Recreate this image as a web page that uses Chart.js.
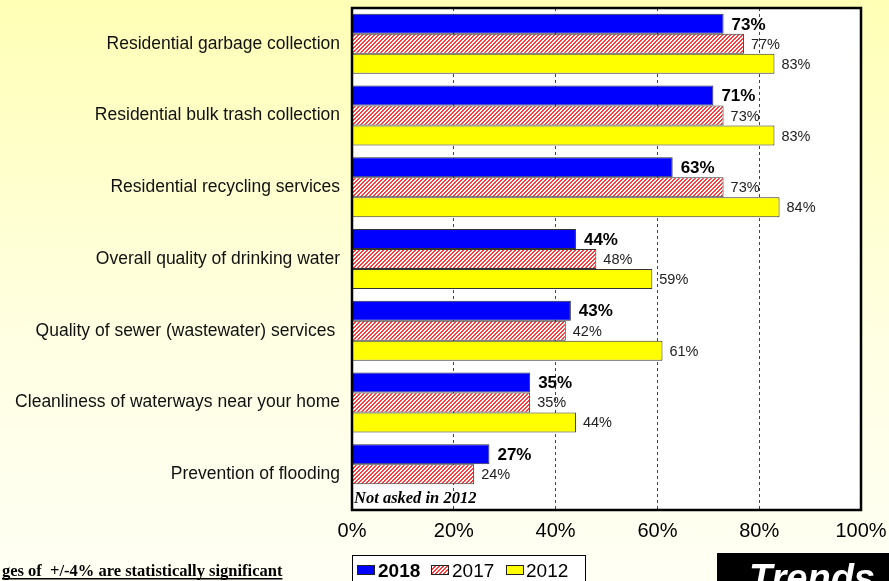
<!DOCTYPE html>
<html><head><meta charset="utf-8">
<script src="https://cdn.jsdelivr.net/npm/chart.js@4/dist/chart.umd.min.js"></script>
<style>html,body{margin:0;padding:0;overflow:hidden;background:#ffffe0}canvas{display:block}</style>
</head><body>
<canvas id="c" width="889" height="581"></canvas>
<script>
const categories = [
  'Residential garbage collection',
  'Residential bulk trash collection',
  'Residential recycling services',
  'Overall quality of drinking water',
  'Quality of sewer (wastewater) services ',
  'Cleanliness of waterways near your home',
  'Prevention of flooding'
];
const seriesNames = ['2018', '2017', '2012'];
const values2018 = [73, 71, 63, 44, 43, 35, 27];
const values2017 = [77, 73, 73, 48, 42, 35, 24];
const values2012 = [83, 83, 84, 59, 61, 44, null];
const xTicks = [0, 20, 40, 60, 80, 100];
const footnote = 'ges of  +/-4% are statistically significant';
const noteText = 'Not asked in 2012';
const badgeText = 'Trends';

const canvas = document.getElementById('c');
const ctx = canvas.getContext('2d');
const SANS = '"Liberation Sans", Arial, sans-serif';
const SERIF = '"Liberation Serif", "Times New Roman", serif';

function hatch() {
  const p = document.createElement('canvas');
  p.width = 4; p.height = 4;
  const g = p.getContext('2d');
  g.fillStyle = '#ffffff'; g.fillRect(0, 0, 4, 4);
  g.fillStyle = '#ff3a3a';
  for (let y = 0; y < 4; y++) {
    for (let x = 0; x < 4; x++) {
      if ((x + y) % 4 < 2) g.fillRect(x, y, 1, 1);
    }
  }
  return ctx.createPattern(p, 'repeat');
}
const hatchFill = hatch();
const fills = ['#0000ff', hatchFill, '#ffff00'];

const decor = {
  id: 'decor',
  beforeDraw(chart) {
    const c = chart.ctx, a = chart.chartArea;
    const gr = c.createLinearGradient(0, 0, 0, chart.height);
    gr.addColorStop(0, '#ffffb6');
    gr.addColorStop(0.6, '#ffffe4');
    gr.addColorStop(1, '#fffff4');
    c.save();
    c.fillStyle = gr;
    c.fillRect(0, 0, chart.width, chart.height);
    c.fillStyle = '#ffffff';
    c.fillRect(a.left, a.top, a.right - a.left, a.bottom - a.top);
    c.restore();
  },
  afterDatasetsDraw(chart) {
    const c = chart.ctx;
    c.save();
    c.textBaseline = 'middle';
    c.textAlign = 'left';
    chart.data.datasets.forEach((ds, di) => {
      const meta = chart.getDatasetMeta(di);
      meta.data.forEach((bar, i) => {
        const v = ds.data[i];
        if (v === null || v === undefined) return;
        if (di === 0) { c.font = 'bold 17px ' + SANS; c.fillStyle = '#000'; }
        else { c.font = '14.5px ' + SANS; c.fillStyle = '#222'; }
        c.fillText(v + '%', bar.x + (di === 0 ? 8 : 7), bar.y + 1);
      });
    });
    c.restore();
  },
  afterDraw(chart) {
    const c = chart.ctx, a = chart.chartArea;
    c.save();
    // plot border
    c.strokeStyle = '#000'; c.lineWidth = 2.5;
    c.strokeRect(a.left, a.top, a.right - a.left, a.bottom - a.top);
    // note
    c.font = 'italic bold 16.5px ' + SERIF;
    c.fillStyle = '#000'; c.textBaseline = 'middle'; c.textAlign = 'left';
    c.fillText(noteText, a.left + 2, 499);
    // legend
    const lx = 352, ly = 555;
    c.fillStyle = '#ffffff';
    c.fillRect(lx, ly, 233, 40);
    c.strokeStyle = '#000'; c.lineWidth = 1;
    c.strokeRect(lx + 0.5, ly + 0.5, 233, 40);
    const items = [
      { x: 357, tx: 378, bold: true },
      { x: 431, tx: 452, bold: false },
      { x: 506, tx: 526, bold: false }
    ];
    items.forEach((it, i) => {
      c.fillStyle = fills[i];
      c.fillRect(it.x, 565, 17, 9);
      c.strokeStyle = '#222'; c.lineWidth = 1;
      c.strokeRect(it.x + 0.5, 565.5, 17, 9);
      c.fillStyle = '#000';
      c.font = (it.bold ? 'bold ' : '') + '19px ' + SANS;
      c.textBaseline = 'alphabetic';
      c.fillText(seriesNames[i], it.tx, 577);
    });
    // footnote
    c.font = 'bold 16.5px ' + SERIF;
    c.fillStyle = '#000';
    c.textBaseline = 'alphabetic';
    c.fillText(footnote, 2, 575.5);
    const w = c.measureText(footnote).width;
    c.fillRect(2, 578, w, 1.5);
    // Trends badge
    c.fillStyle = '#000';
    c.fillRect(717, 553, 172, 40);
    c.fillStyle = '#fff';
    c.font = 'italic bold 38px ' + SANS;
    c.fillText(badgeText, 749, 591);
    c.restore();
  }
};

new Chart(ctx, {
  type: 'bar',
  data: {
    labels: categories,
    datasets: [
      { label: seriesNames[0], data: values2018, backgroundColor: fills[0], borderColor: '#333', borderWidth: 1 },
      { label: seriesNames[1], data: values2017, backgroundColor: fills[1], borderColor: '#333', borderWidth: 1 },
      { label: seriesNames[2], data: values2012, backgroundColor: fills[2], borderColor: '#333', borderWidth: 1 }
    ]
  },
  options: {
    indexAxis: 'y',
    responsive: false,
    animation: false,
    layout: { padding: { left: 0, right: 28, top: 8, bottom: 0 } },
    datasets: { bar: { categoryPercentage: 0.837, barPercentage: 1 } },
    plugins: { legend: { display: false }, tooltip: { enabled: false } },
    scales: {
      x: {
        min: 0, max: 100,
        afterBuildTicks: s => { s.ticks = xTicks.map(v => ({ value: v })); },
        ticks: { callback: v => v + '%', font: { size: 20, family: SANS }, color: '#000', padding: 9, maxRotation: 0 },
        grid: {
          drawTicks: false,
          color: c => (c.tick && (c.tick.value === 0 || c.tick.value === 100)) ? 'rgba(0,0,0,0)' : '#444',
          lineWidth: 1
        },
        border: { display: false, dash: [3, 3] },
        afterFit: s => { s.height = 71; s.paddingLeft = 0; s.paddingRight = 0; }
      },
      y: {
        ticks: { font: { size: 17.5, family: SANS }, color: '#111', padding: 12 },
        grid: { display: false, drawTicks: false },
        border: { display: false },
        afterFit: s => { s.width = 352; s.paddingTop = 0; s.paddingBottom = 0; }
      }
    }
  },
  plugins: [decor]
});
</script>
</body></html>
